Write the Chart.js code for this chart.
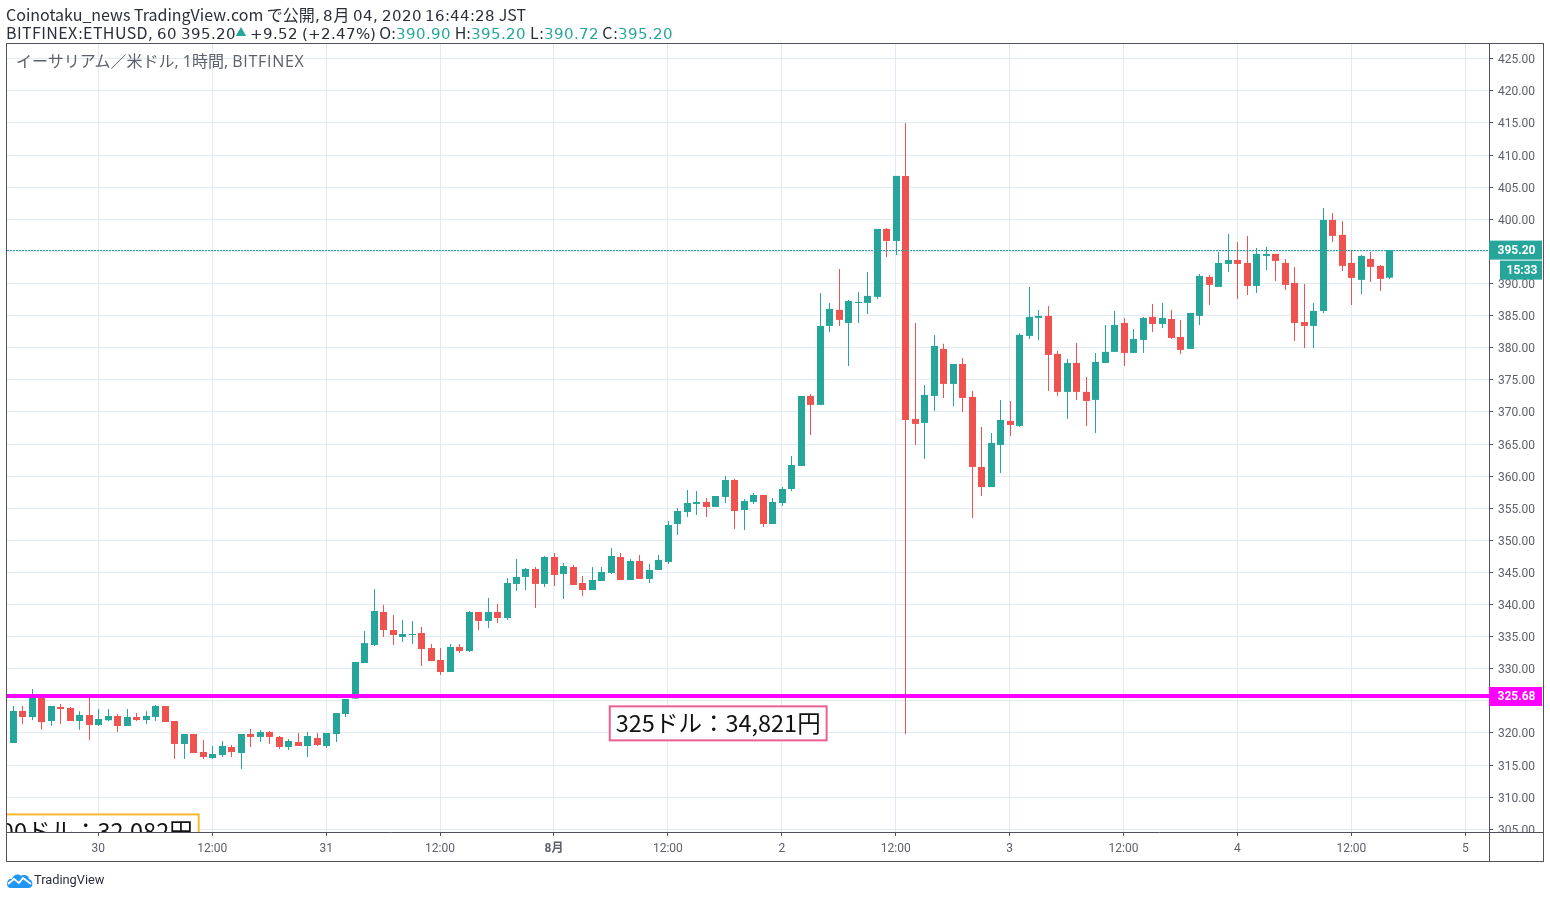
<!DOCTYPE html>
<html lang="ja">
<head>
<meta charset="utf-8">
<title>BITFINEX:ETHUSD</title>
<script src="https://cdn.jsdelivr.net/npm/chart.js@4/dist/chart.umd.js"></script>
<style>
  /* header digits are wider than the latin letters in the original */
  @font-face {
    font-family: "HeadDigits";
    src: local("DejaVu Sans");
    unicode-range: U+25, U+28, U+29, U+2B, U+2C, U+2E, U+30-3A;
    size-adjust: 95%;
  }
  html, body { margin: 0; padding: 0; background: #fff; overflow: hidden; }
  #wrap { position: relative; width: 1550px; height: 898px; }
  #chart { position: absolute; left: 0; top: 0; }
  .txt { position: absolute; white-space: nowrap; font-family: "HeadDigits", "Noto Sans CJK JP", "Noto Sans", sans-serif; }
  #line1 { left: 6px; top: 5px; font-size: 16px; line-height: 18px; color: #2a2e39; }
  #line2 { left: 6px; top: 23px; font-size: 16px; line-height: 18px; color: #2a2e39; }
  #line2 b { font-weight: normal; color: #26a69a; }
  #line2 i { font-style: normal; font-size: 11px; color: #26a69a; position: relative; top: -3px; }
  #line2 span { letter-spacing: 0.4px; }
  #wm { left: 16px; top: 52px; font-size: 16px; line-height: 18px; color: #5d606b; font-family: "Open Sans", "Noto Sans CJK JP", sans-serif; }
  #wm span { letter-spacing: 0.7px; }
  #brand { left: 34px; top: 872px; font-size: 12.8px; line-height: 16px; color: #2a2e39; font-family: Roboto, sans-serif; }
  #logo { position: absolute; left: 6px; top: 871px; }
</style>
</head>
<body>
<div id="wrap">
  <canvas id="chart" width="1550" height="898"></canvas>
  <div class="txt" id="line1">Coinotaku_news TradingView.com で公開, 8月 04, 2020 16:44:28 JST</div>
  <div class="txt" id="line2"><span>BITFINEX:ETHUSD,</span> 60 395.20<i>▲</i> +9.52 (+2.47%) O:<b>390.90</b> H:<b>395.20</b> L:<b>390.72</b> C:<b>395.20</b></div>
  <div class="txt" id="wm">イーサリアム／米ドル, 1時間, <span>BITFINEX</span></div>
  <svg id="logo" width="27" height="18" viewBox="0 0 27 18">
    <path d="M1 13 C1 9 4 7 6 8 C7 4 12 2 15 5 C17 3 23 4 23 8 C26 9 27 12 26 15 C25 17 23 17 22 17 L5 17 C2 17 1 15 1 13 Z" fill="#2196f3"/>
    <path d="M2 13 L8 8 L13 12 L17 7 L25 13" fill="none" stroke="#fff" stroke-width="1.8"/>
  </svg>
  <div class="txt" id="brand">TradingView</div>
</div>
<script>
// hour of the first candle, counted from 30 Jul 00:00
const firstHour = -9;

const opens = [
  318.44, 323.43, 322.49, 325.7, 321.87, 324.05, 323.9, 321.87, 322.8, 321.25,
  321.98, 322.65, 321.09, 322.49, 322.02, 322.49, 324.2, 321.87, 318.29, 319.84,
  317.04, 316.1, 316.57, 317.82, 316.88, 319.84, 319.38, 320.16, 319.38, 317.82,
  318.6, 317.97, 319.22, 317.97, 319.84, 322.96, 325.35, 330.9, 333.71, 338.85,
  336.04, 334.95, 335.26, 335.58, 333.24, 331.37, 329.5, 333.4, 332.77, 338.85,
  337.45, 338.85, 337.91, 343.21, 344.3, 345.55, 343.21, 347.41, 344.77, 345.86,
  343.36, 342.27, 343.67, 344.92, 347.41, 343.83, 346.79, 343.99, 345.39, 346.64,
  352.55, 354.42, 355.67, 355.98, 355.2, 356.76, 359.4, 354.73, 355.98, 357.07,
  352.55, 355.82, 358.0, 361.58, 372.49, 371.09, 383.39, 385.89, 383.86, 386.96,
  386.98, 387.91, 398.5, 396.63, 406.76, 368.91, 368.29, 372.49, 379.81, 374.36,
  377.47, 372.34, 361.43, 358.3, 364.86, 368.6, 367.82, 381.84, 384.64, 384.95,
  379.03, 373.12, 377.63, 373.12, 371.87, 377.63, 379.35, 383.86, 379.19, 381.21,
  384.8, 383.7, 384.48, 381.68, 379.81, 384.95, 391.03, 389.47, 393.05, 393.67,
  393.2, 389.62, 394.3, 394.61, 393.2, 390.09, 384.0, 383.39, 385.73, 399.9,
  397.57, 393.2, 390.56, 393.83, 392.74, 390.9,
];
const highs = [
  324.2, 324.2, 326.85, 325.8, 324.2, 324.5, 324.05, 323.4, 325.66, 323.74,
  323.74, 322.96, 323.74, 323.1, 323.4, 324.36, 324.2, 321.87, 319.84, 319.84,
  318.9, 317.97, 318.75, 318.13, 319.84, 320.62, 320.47, 320.31, 319.53, 319.06,
  320.0, 320.16, 320.0, 320.0, 323.1, 325.3, 331.06, 335.89, 342.43, 339.94,
  338.38, 337.6, 337.45, 336.51, 333.86, 333.24, 333.86, 333.86, 339.0, 338.85,
  341.03, 340.09, 344.14, 347.1, 345.7, 345.86, 347.57, 348.04, 346.48, 346.17,
  344.45, 345.86, 345.86, 348.8, 348.04, 347.1, 347.73, 346.3, 347.73, 353.02,
  355.04, 357.84, 357.69, 356.6, 356.91, 360.03, 359.56, 356.44, 357.38, 357.07,
  356.6, 358.31, 363.14, 372.49, 372.8, 388.53, 386.98, 392.27, 387.44, 388.69,
  391.8, 398.5, 398.66, 406.76, 415.0, 383.86, 374.2, 382.0, 380.6, 377.47,
  378.41, 373.27, 367.66, 366.73, 371.87, 371.71, 382.3, 389.47, 385.89, 386.51,
  379.5, 378.25, 380.75, 375.45, 379.19, 383.55, 385.73, 384.64, 382.93, 384.8,
  386.82, 386.98, 385.89, 384.33, 385.42, 391.49, 391.34, 394.92, 397.72, 396.48,
  397.41, 395.54, 395.7, 394.61, 393.83, 392.58, 389.94, 386.98, 401.77, 401.0,
  399.75, 395.2, 394.45, 394.92, 392.9, 395.2,
];
const lows = [
  318.44, 321.4, 322.0, 320.5, 321.1, 321.4, 321.87, 320.5, 318.9, 321.1,
  321.87, 320.15, 321.09, 321.87, 321.4, 321.87, 321.71, 315.95, 315.95, 316.88,
  315.95, 315.95, 316.26, 316.26, 314.4, 317.82, 318.6, 318.29, 317.5, 317.35,
  317.97, 316.26, 317.97, 317.66, 318.6, 322.49, 325.3, 330.9, 333.55, 334.95,
  333.71, 334.17, 333.86, 330.44, 331.2, 329.03, 329.5, 332.46, 332.62, 336.04,
  336.36, 337.13, 337.6, 342.1, 342.27, 339.47, 342.74, 342.9, 340.87, 343.05,
  341.34, 342.27, 343.67, 344.77, 343.83, 343.83, 343.99, 343.36, 345.39, 346.3,
  350.84, 353.64, 353.95, 353.64, 355.2, 355.82, 351.77, 351.62, 355.67, 352.08,
  352.55, 355.35, 357.69, 361.58, 366.41, 371.09, 382.46, 383.39, 377.16, 383.86,
  385.26, 387.6, 394.14, 394.45, 319.84, 364.86, 362.68, 370.15, 372.18, 370.93,
  370.0, 353.49, 356.92, 358.3, 360.5, 366.26, 367.66, 381.37, 381.21, 373.27,
  372.49, 368.91, 371.87, 367.82, 366.73, 377.63, 379.35, 377.16, 379.19, 379.19,
  382.46, 383.08, 381.37, 379.03, 379.81, 383.55, 386.67, 389.47, 391.8, 387.6,
  388.22, 388.54, 392.12, 390.4, 389.0, 381.06, 379.97, 379.97, 385.42, 396.48,
  391.96, 386.67, 388.38, 390.25, 388.85, 390.72,
];
const closes = [
  323.43, 322.49, 325.7, 321.7, 324.2, 323.73, 321.87, 322.8, 321.25, 322.18,
  322.65, 321.09, 322.49, 322.02, 322.65, 324.2, 321.71, 318.29, 319.84, 316.88,
  316.26, 316.73, 317.97, 317.04, 319.84, 319.38, 320.16, 319.38, 317.82, 318.75,
  317.97, 319.53, 318.13, 320.0, 323.1, 325.3, 331.06, 334.0, 339.0, 336.04,
  335.26, 335.42, 335.42, 333.08, 331.2, 329.5, 333.4, 332.77, 338.85, 337.45,
  338.85, 337.91, 343.36, 344.3, 345.55, 343.21, 347.41, 344.61, 346.0, 343.05,
  342.27, 343.83, 345.08, 347.57, 343.83, 346.79, 343.99, 345.39, 346.95, 352.4,
  354.57, 355.82, 355.98, 355.2, 356.91, 359.4, 354.57, 356.13, 357.07, 352.55,
  355.98, 358.0, 361.74, 372.49, 371.09, 383.39, 386.04, 384.33, 387.29, 387.13,
  388.07, 398.5, 396.63, 406.76, 368.75, 368.13, 372.65, 380.28, 374.36, 377.47,
  372.18, 361.43, 358.3, 365.17, 368.75, 367.97, 382.0, 384.8, 384.95, 378.88,
  373.12, 377.63, 373.12, 371.71, 377.79, 379.35, 383.55, 379.19, 381.37, 384.64,
  383.7, 384.64, 381.52, 379.66, 385.42, 391.18, 389.78, 393.2, 393.67, 393.05,
  389.62, 394.61, 394.61, 393.52, 389.78, 383.86, 383.39, 385.73, 399.9, 397.41,
  392.74, 390.87, 394.3, 392.58, 390.72, 395.2,
];

const xTickHours = [0, 12, 24, 36, 48, 60, 72, 84, 96, 108, 120, 132, 144];
const xTickLabels = ["30", "12:00", "31", "12:00", "8月", "12:00", "2", "12:00", "3", "12:00", "4", "12:00", "5"];
const yTicks = [305, 310, 315, 320, 325, 330, 335, 340, 345, 350, 355, 360, 365, 370, 375, 380, 385, 390, 395, 400, 405, 410, 415, 420, 425];

const lastPrice = 395.2;
const linePrice = 325.68;
const countdown = "15:33";

const noteTexts = ["325ドル：34,821円", "300ドル：32,082円"];
const noteHours = [65.3, -0.85];
const notePrices = [321.5, 304.67];

const GREEN = "#26a69a";
const RED = "#ef5350";
const MAGENTA = "#ff00ff";
const FRAME = "#50535e";
const GRID = "#e1ebf2";
const FONT = 'Roboto, "Noto Sans CJK JP", sans-serif';
const JP_FONT = '"Noto Sans CJK JP", sans-serif';

const xMin = -9.62;
const xMax = 146.5;
const yMin = 304.58;
const yMax = 427.3;

const hours = opens.map((_, i) => firstHour + i);
const colors = opens.map((o, i) => (closes[i] >= o ? GREEN : RED));

// snap bars and price lines to whole pixels so they stay crisp
const snapMarks = {
  id: "snapMarks",
  afterDatasetsUpdate(chart) {
    chart.getSortedVisibleDatasetMetas().forEach((meta) => {
      meta.data.forEach((el) => {
        if (meta.type === "bar") {
          el.x = Math.round(el.x) + 0.5;
        } else if (meta.dataset.options.borderWidth === 1) {
          el.y = Math.round(el.y - 0.5) + 0.5;
        } else {
          el.y = Math.floor(el.y);
        }
      });
    });
  },
  // price labels sit a bit lower than their grid lines in the original
  beforeDraw(chart) {
    chart.scales.y.getLabelItems().forEach((item) => {
      item.options.translation = [item.options.translation[0], item.options.translation[1] + 1.5];
    });
  },
};

function priceTag(ctx, y, text, color, left) {
  ctx.fillStyle = color;
  ctx.fillRect(left, y - 9.5, 1542 - left, 19);
  ctx.fillStyle = "#fff";
  ctx.font = "bold 12px " + FONT;
  ctx.textAlign = "center";
  ctx.textBaseline = "middle";
  ctx.fillText(text, (left + 1542) / 2 + 1, y + 0.5);
}

const overlays = {
  id: "overlays",
  afterDatasetsDraw(chart) {
    const { ctx, chartArea, scales } = chart;
    ctx.save();

    // notes, clipped by the plot area
    ctx.save();
    ctx.beginPath();
    ctx.rect(chartArea.left, chartArea.top, chartArea.width, chartArea.height);
    ctx.clip();
    noteTexts.forEach((text, i) => {
      const cx = scales.x.getPixelForValue(noteHours[i]);
      const cy = scales.y.getPixelForValue(notePrices[i]);
      ctx.font = "23.5px " + JP_FONT;
      const w = ctx.measureText(text).width + 12;
      ctx.fillStyle = "#fff";
      ctx.fillRect(cx - w / 2, cy - 17, w, 34);
      ctx.strokeStyle = i === 0 ? "#ec5f93" : "#f9b82d";
      ctx.lineWidth = 2;
      ctx.strokeRect(cx - w / 2, cy - 17, w, 34);
      ctx.fillStyle = "#111";
      ctx.textAlign = "center";
      ctx.textBaseline = "middle";
      ctx.fillText(text, cx, cy);
    });
    ctx.restore();

    // corner under the price axis hides the clipped 305 label
    ctx.fillStyle = "#fff";
    ctx.fillRect(chartArea.right + 1, chartArea.bottom, 60, 30);

    // frame
    ctx.strokeStyle = FRAME;
    ctx.lineWidth = 1;
    ctx.strokeRect(6.5, 43.5, 1537, 818);
    ctx.beginPath();
    ctx.moveTo(6.5, 832.5);
    ctx.lineTo(1543.5, 832.5);
    ctx.moveTo(1489.5, 43.5);
    ctx.lineTo(1489.5, 861.5);
    ctx.stroke();

    const yLast = scales.y.getPixelForValue(lastPrice);
    priceTag(ctx, yLast, lastPrice.toFixed(2), GREEN, 1489);
    priceTag(ctx, yLast + 20, countdown, GREEN, 1500);
    priceTag(ctx, scales.y.getPixelForValue(linePrice), linePrice.toFixed(2), MAGENTA, 1489);

    ctx.restore();
  },
};

const initApp = () => {
  new Chart(document.querySelector("#chart").getContext("2d"), {
    type: "bar",
    data: {
      datasets: [
        {
          type: "line",
          data: [{ x: xMin, y: linePrice }, { x: xMax, y: linePrice }],
          borderColor: MAGENTA,
          borderWidth: 4,
          pointRadius: 0,
          order: 0,
        },
        {
          type: "line",
          data: [{ x: xMin, y: lastPrice }, { x: xMax, y: lastPrice }],
          borderColor: GREEN,
          borderWidth: 1,
          borderDash: [2, 1],
          pointRadius: 0,
          order: 0,
        },
        {
          data: hours.map((h, i) => ({ x: h, y: [opens[i], closes[i]] })),
          backgroundColor: colors,
          barThickness: 7,
          grouped: false,
          inflateAmount: 0,
          borderWidth: 0,
          order: 1,
        },
        {
          data: hours.map((h, i) => ({ x: h, y: [lows[i], highs[i]] })),
          backgroundColor: colors,
          barThickness: 1,
          grouped: false,
          inflateAmount: 0,
          borderWidth: 0,
          order: 2,
        },
      ],
    },
    options: {
      responsive: false,
      devicePixelRatio: 1,
      animation: false,
      layout: { padding: { left: 7, top: 44, right: 7, bottom: 37 } },
      plugins: { legend: { display: false }, tooltip: { enabled: false } },
      scales: {
        x: {
          type: "linear",
          offset: false,
          min: xMin,
          max: xMax,
          grid: { offset: false, color: GRID, tickColor: FRAME, tickLength: 4 },
          border: { display: false },
          afterBuildTicks: (s) => {
            s.ticks = xTickHours.map((v) => ({ value: v }));
          },
          afterFit: (s) => {
            s.height = 29;
          },
          ticks: {
            autoSkip: false,
            maxRotation: 0,
            padding: 6,
            color: "#5d606b",
            font: (c) => ({ family: FONT, size: 12, weight: c.index === 4 ? "bold" : "normal" }),
            callback: (v, i) => xTickLabels[i],
          },
        },
        y: {
          type: "linear",
          position: "right",
          min: yMin,
          max: yMax,
          grid: { color: GRID, tickColor: FRAME, tickLength: 4 },
          border: { display: false },
          afterBuildTicks: (s) => {
            s.ticks = yTicks.map((v) => ({ value: v }));
          },
          afterFit: (s) => {
            s.width = 54;
          },
          ticks: {
            autoSkip: false,
            padding: 5,
            color: "#5d606b",
            font: { family: FONT, size: 12 },
            callback: (v) => v.toFixed(2),
          },
        },
      },
    },
    plugins: [snapMarks, overlays],
  });
};

initApp();
</script>
</body>
</html>
